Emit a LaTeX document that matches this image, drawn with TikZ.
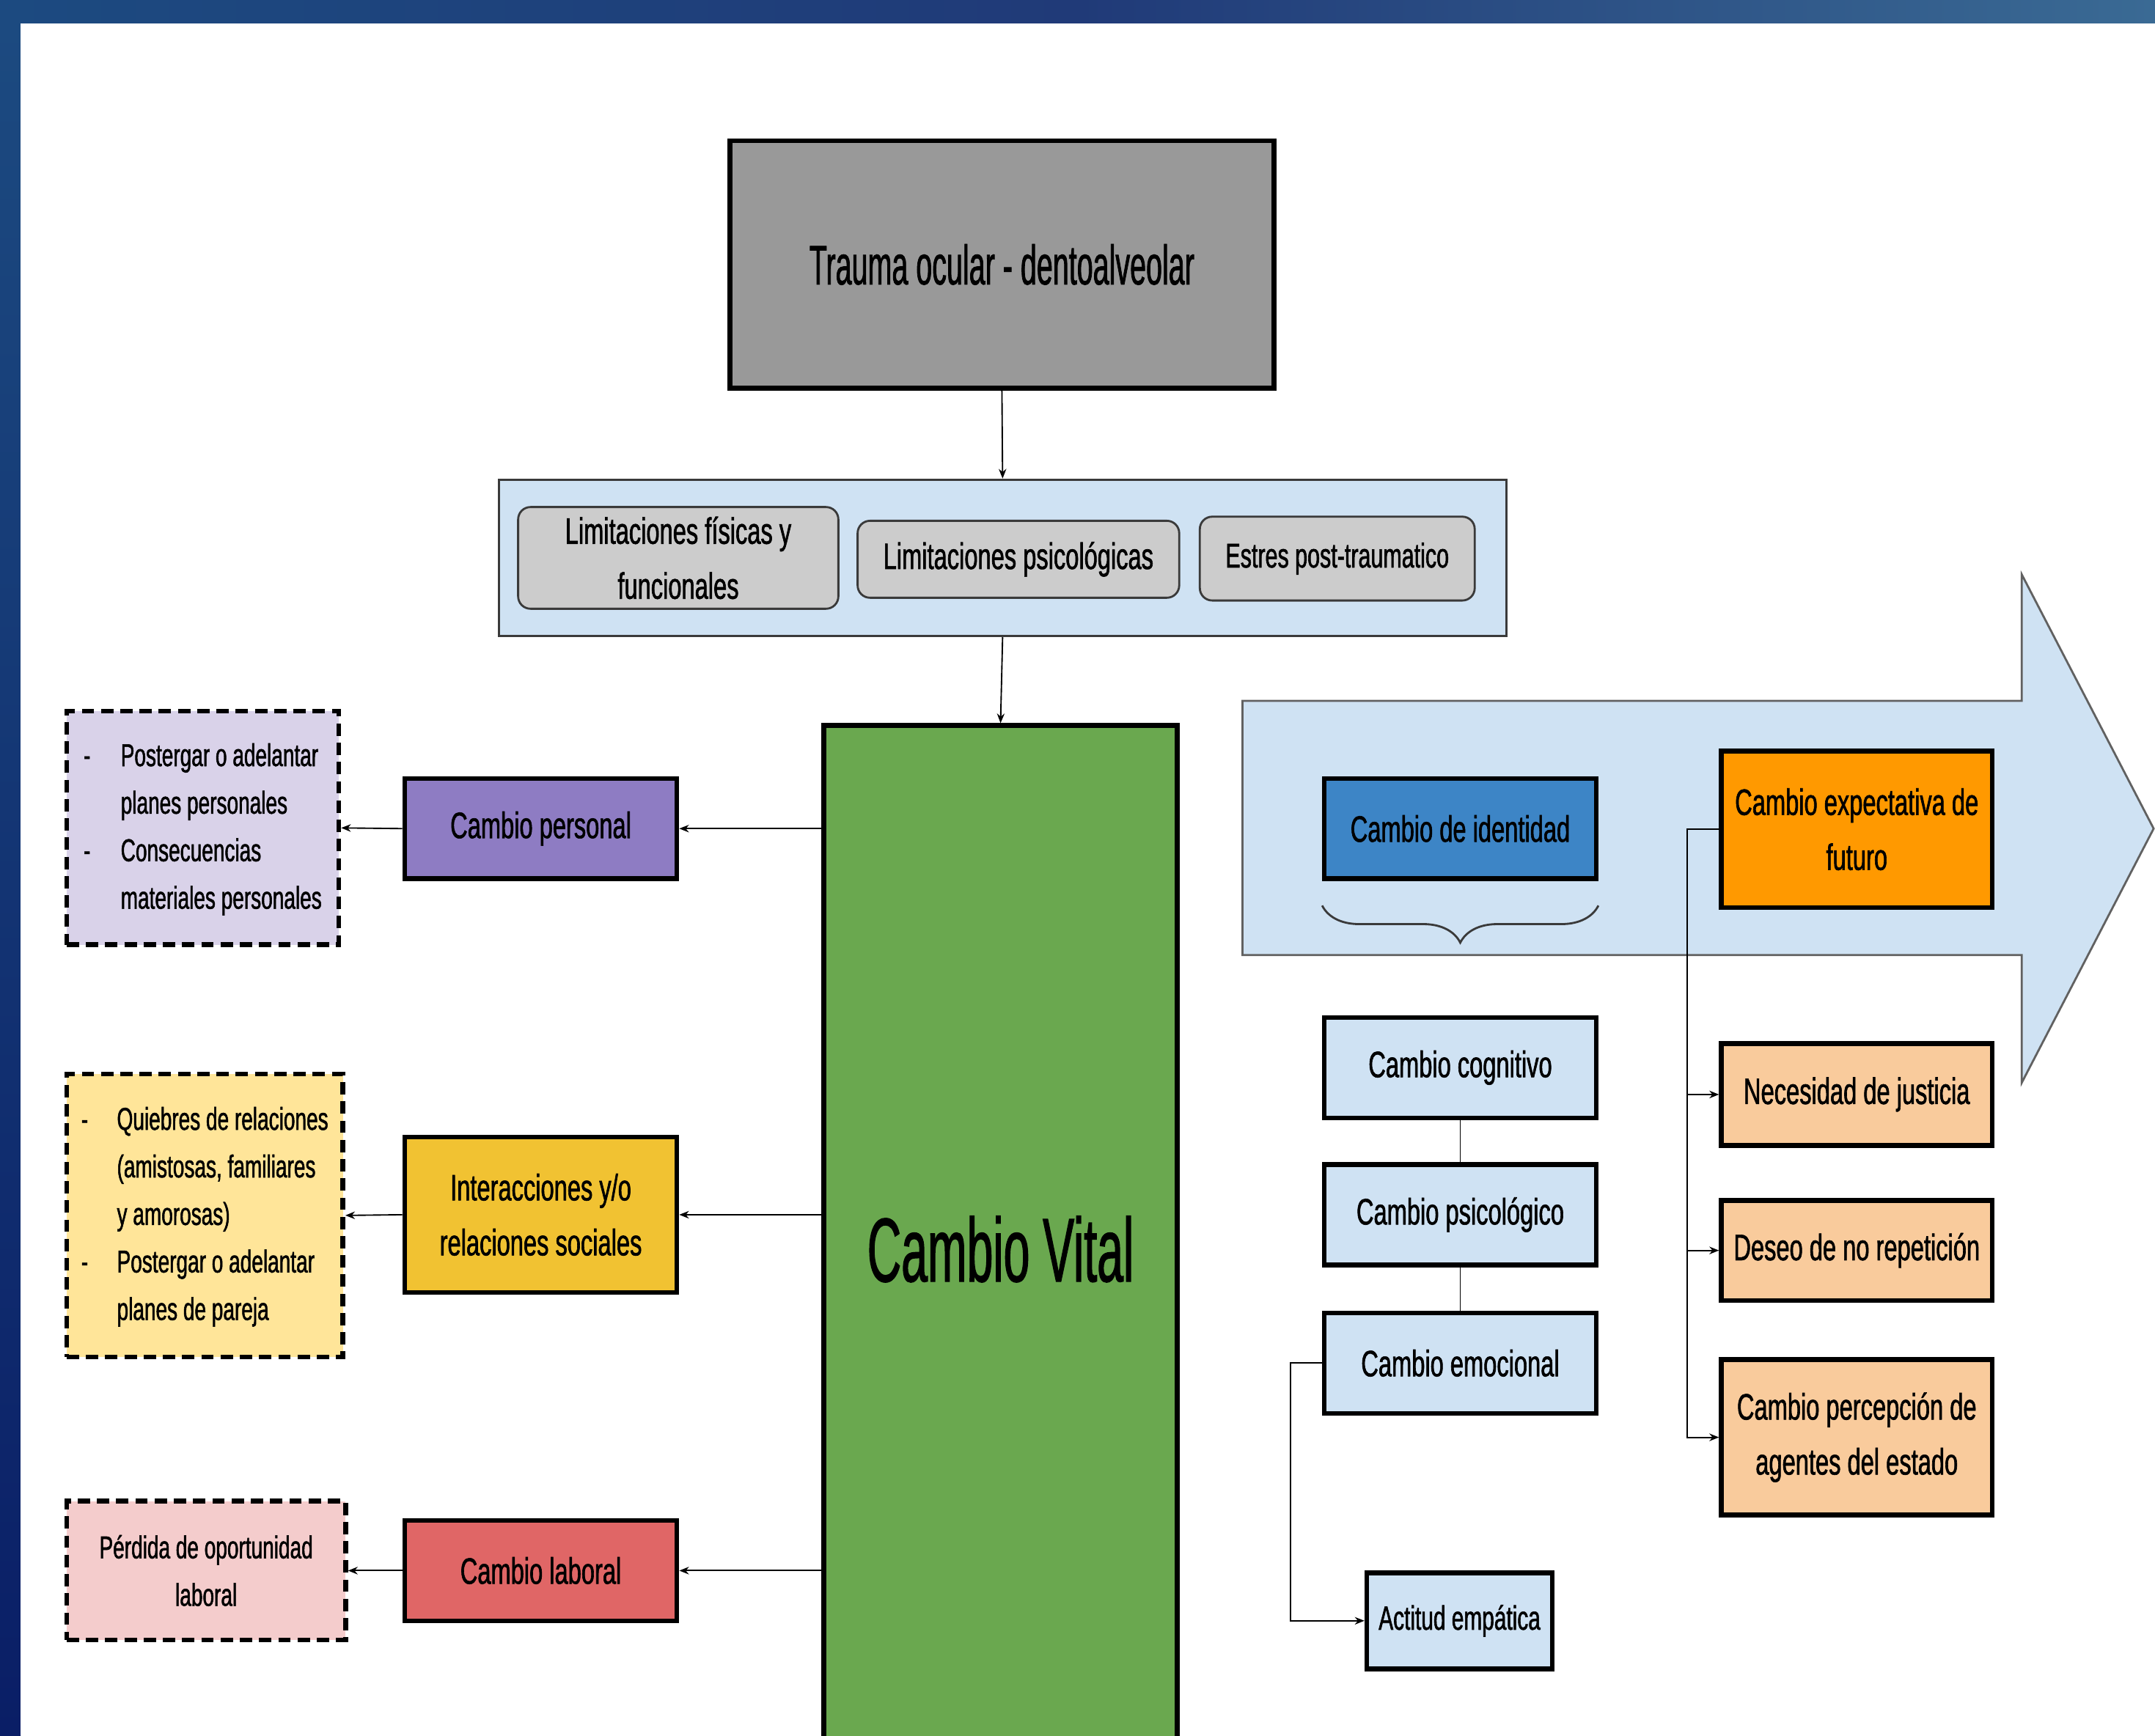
\documentclass[tikz,border=0pt]{standalone}
\usepackage{fontspec}
\setmainfont[FakeStretch=0.65,FakeBold=1.2]{Liberation Sans}
\newfontfamily\bigf[FakeStretch=0.52,FakeBold=1.0]{Liberation Sans}
\usetikzlibrary{arrows.meta,decorations.pathreplacing,calc}
\definecolor{cTrauma}{HTML}{999999}
\definecolor{cLblue}{HTML}{CFE2F3}
\definecolor{cRound}{HTML}{CCCCCC}
\definecolor{cGreen}{HTML}{6AA84F}
\definecolor{cPurple}{HTML}{8E7CC3}
\definecolor{cYellow}{HTML}{F1C232}
\definecolor{cRed}{HTML}{E06666}
\definecolor{cLpur}{HTML}{D9D2E9}
\definecolor{cLyel}{HTML}{FFE599}
\definecolor{cLpink}{HTML}{F4CCCC}
\definecolor{cBlue}{HTML}{3D85C6}
\definecolor{cOrange}{HTML}{FF9900}
\definecolor{cLorange}{HTML}{F9CB9C}
\definecolor{cEdge}{HTML}{3A3A3A}
\definecolor{cBgA}{HTML}{1C4A80}
\definecolor{cBgB}{HTML}{203A78}
\definecolor{cBgC}{HTML}{3A6A94}
\definecolor{cBgD}{HTML}{0A1E66}
\tikzset{
  tbox/.style={draw=black, line width=3.5pt, inner sep=0pt, align=center},
  rbox/.style={draw=cEdge, line width=1.5pt, fill=cRound, rounded corners=9pt, inner sep=0pt, align=center},
  dbox/.style={draw=black, line width=3.5pt, dash pattern=on 9pt off 5pt, inner sep=0pt, align=center,
               font=\fontsize{23}{34.6}\selectfont},
  arr/.style={line width=1pt, -{Stealth[length=7pt,width=5.5pt]}},
  plain/.style={line width=1pt}
}
\begin{document}
\begin{tikzpicture}[x=1pt,y=-1pt,font=\fontsize{26.8}{40}\selectfont]
\useasboundingbox (0,0) rectangle (1568,1263);
% background frame
\fill[cBgB] (0,0) rectangle (1568,1263);
\fill[left color=cBgA, right color=cBgC, middle color=cBgB] (0,0) rectangle (1568,17);
\fill[top color=cBgA, bottom color=cBgD] (0,17) rectangle (15,1263);
\fill[white] (15,17) rectangle (1568,1263);

% top part
\node[tbox, fill=cTrauma, minimum width=396pt, minimum height=180pt] (tr) at (729,192.5)
  {\bigf\fontsize{40.5}{48}\selectfont Trauma ocular - dentoalveolar};
\node[draw=cEdge, line width=1.5pt, fill=cLblue, inner sep=0pt, minimum width=733pt, minimum height=114pt] (lim) at (729.5,406) {};
\node[rbox, minimum width=233pt, minimum height=74pt] (lf) at (493.5,406) {Limitaciones físicas y\\funcionales};
\node[rbox, minimum width=234pt, minimum height=56pt] (lp) at (741,407) {Limitaciones psicológicas};
\node[rbox, minimum width=200pt, minimum height=61pt, font=\fontsize{25}{38}\selectfont] (ep) at (973,406.5) {Estres post-traumatico};

% central
\node[tbox, fill=cGreen, minimum width=257pt, minimum height=762pt] (cv) at (728,909)
  {\bigf\fontsize{66}{80}\selectfont Cambio Vital};

\draw[arr] (tr.south) -- (lim.north);
\draw[arr] (lim.south) -- (cv.north);

% left branch
\node[tbox, fill=cPurple, minimum width=198pt, minimum height=73pt] (cp) at (393.5,603) {Cambio personal};
\node[tbox, fill=cYellow, minimum width=198pt, minimum height=113pt] (ir) at (393.5,884) {Interacciones y/o\\relaciones sociales};
\node[tbox, fill=cRed, minimum width=198pt, minimum height=73pt] (cl) at (393.5,1143) {Cambio laboral};

\node[dbox, fill=cLpur, minimum width=198pt, minimum height=170pt] (dp) at (147.5,602.5)
  {\begin{tabular}{@{}p{27pt}@{}l@{}}-&Postergar o adelantar\\ &planes personales\\-&Consecuencias\\ &materiales personales\end{tabular}};
\node[dbox, fill=cLyel, minimum width=201pt, minimum height=206pt] (dy) at (149,884.5)
  {\begin{tabular}{@{}p{26pt}@{}l@{}}-&Quiebres de relaciones\\ &(amistosas, familiares\\ &y amorosas)\\-&Postergar o adelantar\\ &planes de pareja\end{tabular}};
\node[dbox, fill=cLpink, minimum width=203pt, minimum height=101pt] (dk) at (150,1143)
  {Pérdida de oportunidad\\laboral};

\draw[arr] (cv.west |- cp.east) -- (cp.east);
\draw[arr] (cv.west |- ir.east) -- (ir.east);
\draw[arr] (cv.west |- cl.east) -- (cl.east);
\draw[arr] (cp.west) -- (dp.east);
\draw[arr] (ir.west) -- (dy.east);
\draw[arr] (cl.west) -- (dk.east);

% right big arrow
\draw[draw=cEdge!80, line width=1.5pt, fill=cLblue, line join=miter]
  (904,510) -- (1471,510) -- (1471,418) -- (1567,603) -- (1471,788) -- (1471,695) -- (904,695) -- cycle;

\node[tbox, fill=cBlue, minimum width=198pt, minimum height=73pt] (id) at (1062.5,603) {Cambio de identidad};
\node[tbox, fill=cOrange, minimum width=197pt, minimum height=114pt] (ef) at (1351,603.5) {Cambio expectativa de\\futuro};
\coordinate (brL) at (962,659);
\coordinate (brR) at (1163,659);
\draw[decorate, decoration={brace, amplitude=27pt, mirror}, line width=1.5pt, draw=cEdge] (brL) -- (brR);

\node[tbox, fill=cLblue, minimum width=198pt, minimum height=73pt] (cc) at (1062.5,777) {Cambio cognitivo};
\node[tbox, fill=cLblue, minimum width=198pt, minimum height=73pt] (cs) at (1062.5,884) {Cambio psicológico};
\node[tbox, fill=cLblue, minimum width=198pt, minimum height=73pt] (ce) at (1062.5,992) {Cambio emocional};
\node[tbox, fill=cLblue, minimum width=135pt, minimum height=70pt, font=\fontsize{24.5}{36}\selectfont] (ae) at (1062,1179.5) {Actitud empática};

\draw[plain] (cc.south) -- (cs.north);
\draw[plain] (cs.south) -- (ce.north);
\draw[arr] (ce.west) -- ++(-23,0) |- (ae.west);

\node[tbox, fill=cLorange, minimum width=197pt, minimum height=74pt] (nj) at (1351,796.5) {Necesidad de justicia};
\node[tbox, fill=cLorange, minimum width=197pt, minimum height=73pt] (dn) at (1351,910) {Deseo de no repetición};
\node[tbox, fill=cLorange, minimum width=197pt, minimum height=113pt] (pa) at (1351,1046) {Cambio percepción de\\agentes del estado};

\draw[arr] (ef.west) -- ++(-23,0) |- (nj.west);
\draw[arr] (ef.west) -- ++(-23,0) |- (dn.west);
\draw[arr] (ef.west) -- ++(-23,0) |- (pa.west);
\end{tikzpicture}
\end{document}
